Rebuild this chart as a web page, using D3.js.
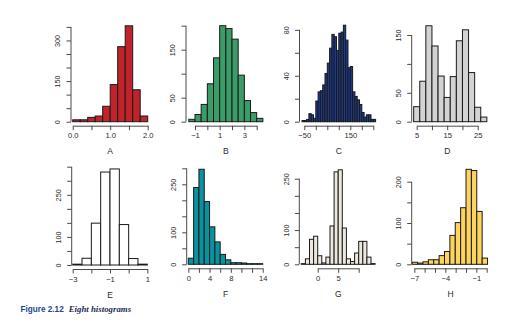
<!DOCTYPE html>
<html><head><meta charset="utf-8">
<script src="https://cdn.jsdelivr.net/npm/d3@7"></script>
<style>
html,body{margin:0;padding:0;background:#fff;}
svg{display:block;}
text{font-family:"Liberation Sans",Arial,Helvetica,sans-serif;}
</style></head>
<body>
<svg id="chart" width="511" height="325"></svg>
<script>
// ---------- DATA ----------
const panelNames = ["A","B","C","D","E","F","G","H"];

// bin starts and widths
const binStartA = 0,    binWidthA = 0.2;
const countsA = [7, 7, 16, 21, 57, 137, 277, 354, 118, 21];
const binStartB = -1.5, binWidthB = 0.5;
const countsB = [5, 15, 36, 79, 133, 200, 194, 172, 97, 44, 19, 7];
const binStartC = -60,  binWidthC = 10;
const countsC = [1, 1, 2, 7, 6, 3, 18, 26, 27, 32, 42, 51, 64, 76, 74, 62,
                 77, 78, 84, 71, 47, 48, 26, 22, 19, 15, 8, 4, 6, 6, 2, 2];
const binStartD = 4,    binWidthD = 2;
const countsD = [26, 70, 166, 131, 79, 42, 78, 140, 159, 85, 25, 8];
const binStartE = -3,   binWidthE = 0.5;
const countsE = [3, 24, 149, 331, 342, 144, 23, 3];
const binStartF = 0,    binWidthF = 1;
const countsF = [19, 240, 297, 196, 117, 70, 31, 14, 5, 5, 4, 2, 2, 2];
const binStartG = -4,   binWidthG = 1;
const countsG = [2, 16, 73, 82, 25, 4, 21, 112, 270, 276, 106, 16, 8, 33, 67, 67, 21, 2];
const binStartH = -7.2, binWidthH = 0.52;
const countsH = [5, 3, 6, 11, 11, 21, 31, 70, 101, 137, 230, 227, 128, 15];

// axis ticks and labels
const xTicksA = [0, 0.5, 1, 1.5, 2],        xLabelsA = {0: "0.0", 1: "1.0", 2: "2.0"};
const yTicksA = [0, 50, 100, 150, 200, 250, 300, 350], yLabelsA = [0, 150, 300];
const xTicksB = [-1, 0, 1, 2, 3, 4],         xLabelsB = {"-1": "\u22121", 1: "1", 3: "3"};
const yTicksB = [0, 50, 100, 150, 200],      yLabelsB = [0, 50, 150];
const xTicksC = [-50, 0, 50, 100, 150, 200, 250], xLabelsC = {"-50": "\u221250", 150: "150"};
const yTicksC = [0, 20, 40, 60, 80],         yLabelsC = [0, 40, 80];
const xTicksD = [5, 10, 15, 20, 25],         xLabelsD = {5: "5", 15: "15", 25: "25"};
const yTicksD = [0, 50, 100, 150],           yLabelsD = [0, 50, 150];
const xTicksE = [-3, -2, -1, 0, 1],          xLabelsE = {"-3": "\u22123", "-1": "\u22121", 1: "1"};
const yTicksE = [0, 50, 100, 150, 200, 250, 300, 350], yLabelsE = [0, 100, 250];
const xTicksF = [0, 2, 4, 6, 8, 10, 12, 14], xLabelsF = {0: "0", 4: "4", 8: "8", 14: "14"};
const yTicksF = [0, 50, 100, 150, 200, 250, 300], yLabelsF = [0, 100, 250];
const xTicksG = [0, 5, 10],                  xLabelsG = {0: "0", 5: "5"};
const yTicksG = [0, 50, 100, 150, 200, 250], yLabelsG = [0, 100, 250];
const xTicksH = [-7, -6, -5, -4, -3, -2, -1, 0], xLabelsH = {"-7": "\u22127", "-4": "\u22124", "-1": "\u22121"};
const yTicksH = [0, 50, 100, 150, 200],      yLabelsH = [0, 100, 200];

const caption1 = "Figure 2.12";
const caption2 = "Eight histograms";

// ---------- LAYOUT / STYLE ----------
const panels = [
  {name:"A", start:binStartA, width:binWidthA, counts:countsA, xT:xTicksA, xL:xLabelsA, yT:yTicksA, yL:yLabelsA,
   fill:"#c1232b", xd:[0,2], xr:[72.7,147.7], yd:[0,350], yr:[121.7,26.9], ax:71},
  {name:"B", start:binStartB, width:binWidthB, counts:countsB, xT:xTicksB, xL:xLabelsB, yT:yTicksB, yL:yLabelsB,
   fill:"#3a9c66", xd:[-1,4], xr:[195,256.7], yd:[0,200], yr:[121.7,25.7], ax:186},
  {name:"C", start:binStartC, width:binWidthC, counts:countsC, xT:xTicksC, xL:xLabelsC, yT:yTicksC, yL:yLabelsC,
   fill:"#1d3a8e", xd:[-50,250], xr:[304.3,373.3], yd:[0,80], yr:[121.7,29.8], ax:299.5},
  {name:"D", start:binStartD, width:binWidthD, counts:countsD, xT:xTicksD, xL:xLabelsD, yT:yTicksD, yL:yLabelsD,
   fill:"#d3d3d3", xd:[5,25], xr:[416.7,477.7], yd:[0,150], yr:[121.7,35], ax:411.7},
  {name:"E", start:binStartE, width:binWidthE, counts:countsE, xT:xTicksE, xL:xLabelsE, yT:yTicksE, yL:yLabelsE,
   fill:"#ffffff", xd:[-3,1], xr:[72.7,147.3], yd:[0,350], yr:[265,166.7], ax:71.7},
  {name:"F", start:binStartF, width:binWidthF, counts:countsF, xT:xTicksF, xL:xLabelsF, yT:yTicksF, yL:yLabelsF,
   fill:"#0a939f", xd:[0,14], xr:[188.3,262.7], yd:[0,300], yr:[264.3,168.3], ax:186.7},
  {name:"G", start:binStartG, width:binWidthG, counts:countsG, xT:xTicksG, xL:xLabelsG, yT:yTicksG, yL:yLabelsG,
   fill:"#ece8dd", xd:[0,10], xr:[317.7,358.7], yd:[0,250], yr:[264.3,178.7], ax:299.3},
  {name:"H", start:binStartH, width:binWidthH, counts:countsH, xT:xTicksH, xL:xLabelsH, yT:yTicksH, yL:yLabelsH,
   fill:"#fdd55e", xd:[-7,0], xr:[414.3,486.7], yd:[0,200], yr:[264.3,181.7], ax:411.7}
];

const svg = d3.select("#chart");
const axisColor = "#4a4a4a";
const textColor = "#2a2a2a";

panels.forEach(p => {
  const x = d3.scaleLinear().domain(p.xd).range(p.xr);
  const y = d3.scaleLinear().domain(p.yd).range(p.yr);
  const g = svg.append("g");
  const base = y(0);

  // bars
  const bins = p.counts.map((c, i) => ({x0: p.start + i * p.width, x1: p.start + (i + 1) * p.width, c}));
  g.selectAll("rect.bar").data(bins).enter().append("rect")
    .attr("class", "bar")
    .attr("x", d => x(d.x0))
    .attr("width", d => x(d.x1) - x(d.x0))
    .attr("y", d => y(d.c))
    .attr("height", d => base - y(d.c))
    .attr("fill", p.fill)
    .attr("stroke", "#1a1a1a")
    .attr("stroke-width", 1);

  // x axis
  const xAxisY = base + 4;
  const xa = g.append("g").attr("transform", `translate(0,${xAxisY})`)
    .call(d3.axisBottom(x).tickValues(p.xT).tickSize(4.5).tickSizeOuter(0)
      .tickFormat(v => (p.xL[v] !== undefined ? p.xL[v] : "")));
  xa.select(".domain").attr("stroke", axisColor).attr("stroke-width", 1);
  xa.selectAll(".tick line").attr("stroke", axisColor).attr("stroke-width", 1);
  xa.selectAll(".tick text").attr("fill", textColor).attr("font-size", 7.6)
    .attr("font-family", "Liberation Sans, Arial, sans-serif").attr("y", 7.3);

  // x title
  g.append("text").attr("x", (p.xr[0] + p.xr[1]) / 2).attr("y", base + 32.5)
    .attr("text-anchor", "middle").attr("font-size", 8.5).attr("fill", textColor)
    .text(p.name);

  // y axis
  const ya = g.append("g").attr("transform", `translate(${p.ax},0)`)
    .call(d3.axisLeft(y).tickValues(p.yT).tickSize(4.5).tickSizeOuter(0)
      .tickFormat(v => (p.yL.includes(v) ? String(v) : "")));
  ya.select(".domain").attr("stroke", axisColor).attr("stroke-width", 1)
    .attr("d", `M0,${y(p.yT[0])}V${y(p.yT[p.yT.length - 1])}`);
  ya.selectAll(".tick line").attr("stroke", axisColor).attr("stroke-width", 1);
  ya.selectAll(".tick text").attr("fill", textColor).attr("font-size", 7.3)
    .attr("font-family", "Liberation Sans, Arial, sans-serif")
    .attr("x", null).attr("dy", null)
    .attr("text-anchor", "middle")
    .attr("transform", "translate(-10.8,0) rotate(-90)");
});

// caption
const cap = svg.append("text").attr("x", 20.5).attr("y", 312);
cap.append("tspan").attr("font-family", "Liberation Sans, Arial, sans-serif")
  .attr("font-weight", "bold").attr("font-size", 8.2).attr("fill", "#23468f").text(caption1);
cap.append("tspan").attr("dx", 5).attr("font-family", "Liberation Serif, Times New Roman, serif")
  .attr("font-weight", "bold").attr("font-style", "italic").attr("font-size", 8.8).attr("fill", "#1b2a55").text(caption2);
</script>
</body></html>
